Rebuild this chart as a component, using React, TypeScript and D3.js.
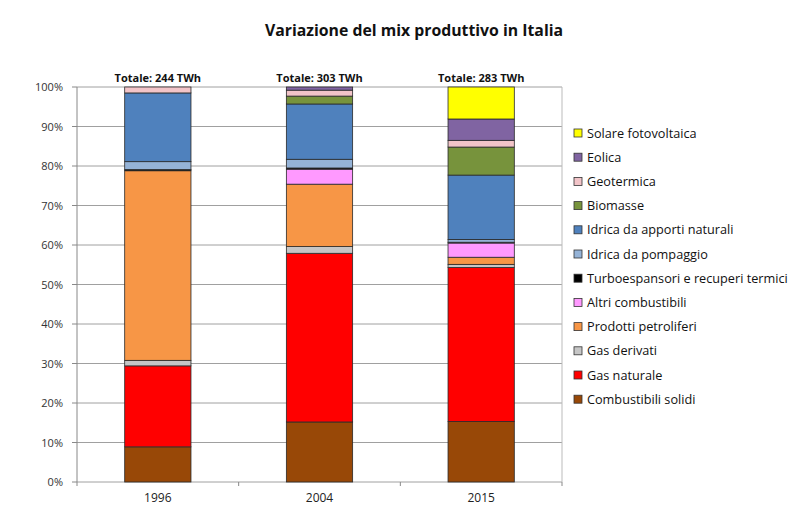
import React from "react";
import * as d3 from "d3";

const years = ["1996", "2004", "2015"];
const totals = ["Totale: 244 TWh", "Totale: 303 TWh", "Totale: 283 TWh"];
const sources = [
  "Combustibili solidi",
  "Gas naturale",
  "Gas derivati",
  "Prodotti petroliferi",
  "Altri combustibili",
  "Turboespansori e recuperi termici",
  "Idrica da pompaggio",
  "Idrica da apporti naturali",
  "Biomasse",
  "Geotermica",
  "Eolica",
  "Solare fotovoltaica",
];
const colors = [
  "#984807",
  "#FF0000",
  "#C6C6C6",
  "#F79646",
  "#FF99FF",
  "#000000",
  "#95B3D7",
  "#4F81BD",
  "#77933C",
  "#F2C4C8",
  "#8064A2",
  "#FFFF00",
];
// percentage shares per year, in order of sources
const share1996 = [8.9, 20.5, 1.4, 48.0, 0.0, 0.3, 2.0, 17.4, 0.0, 1.5, 0.0, 0.0];
const share2004 = [15.2, 42.7, 1.7, 15.8, 3.8, 0.3, 2.2, 14.0, 2.0, 1.5, 0.8, 0.0];
const share2015 = [15.3, 39.0, 0.8, 1.8, 3.6, 0.2, 0.7, 16.3, 7.1, 1.7, 5.4, 8.1];
const yTicks = [0, 10, 20, 30, 40, 50, 60, 70, 80, 90, 100];

const W = 800;
const H = 521;
const M = { left: 77, right: 562, top: 87, bottom: 482 };

export default function App() {
  const data = [share1996, share2004, share2015];
  const x = d3.scaleBand<string>().domain(years).range([M.left, M.right]).paddingInner(0.59).paddingOuter(0.295);
  const band = (M.right - M.left) / years.length;
  const y = d3.scaleLinear().domain([0, 100]).range([M.bottom, M.top]);
  const font = "Open Sans, Lato, sans-serif";

  const rows = years.map((yr, i) => {
    const obj: any = { year: yr };
    sources.forEach((s, j) => (obj[s] = data[i][j]));
    return obj;
  });
  const stack = d3.stack<any>().keys(sources)(rows);

  return (
    <svg width={W} height={H} style={{ position: "absolute", left: 0, top: 0, background: "#fff" }}>
      <text x={414} y={36} textAnchor="middle" fontFamily={font} fontWeight={700} fontSize={15.8} fill="#111">
        Variazione del mix produttivo in Italia
      </text>
      {/* grid */}
      {yTicks.map((t) => (
        <g key={t}>
          <line x1={M.left} x2={M.right} y1={y(t)} y2={y(t)} stroke="#a0a0a0" strokeWidth={1} />
          <line x1={M.left - 5} x2={M.left} y1={y(t)} y2={y(t)} stroke="#888" />
          <text x={63} y={y(t) + 4} textAnchor="end" fontFamily={font} fontSize={11} fill="#333">
            {t}%
          </text>
        </g>
      ))}
      <line x1={M.left} x2={M.left} y1={M.top} y2={M.bottom} stroke="#888" />
      <line x1={M.right} x2={M.right} y1={M.top} y2={M.bottom} stroke="#bbb" />
      {d3.range(years.length + 1).map((i) => (
        <line key={i} x1={M.left + i * band} x2={M.left + i * band} y1={M.bottom} y2={M.bottom + 4} stroke="#888" />
      ))}
      {/* bars */}
      {stack.map((layer, j) => (
        <g key={sources[j]}>
          {layer.map((d, i) =>
            d[1] - d[0] > 0 ? (
              <rect
                key={i}
                x={x(years[i])}
                width={x.bandwidth()}
                y={y(d[1])}
                height={y(d[0]) - y(d[1])}
                fill={colors[j]}
                stroke="#2a2a2a"
                strokeWidth={0.8}
              />
            ) : null
          )}
        </g>
      ))}
      {years.map((yr, i) => (
        <g key={yr}>
          <text x={(x(yr) as number) + x.bandwidth() / 2} y={502} textAnchor="middle" fontFamily={font} fontSize={12} fill="#222">
            {yr}
          </text>
          <text x={(x(yr) as number) + x.bandwidth() / 2} y={82} textAnchor="middle" fontFamily={font} fontWeight={700} fontSize={11} fill="#111">
            {totals[i]}
          </text>
        </g>
      ))}
      {/* legend */}
      {sources
        .slice()
        .reverse()
        .map((s, k) => {
          const j = sources.length - 1 - k;
          const yy = 133 + k * 24.2;
          return (
            <g key={s}>
              <rect x={574} y={yy - 4} width={8} height={8} fill={colors[j]} stroke="#333" strokeWidth={0.8} />
              <text x={587} y={yy + 4.5} fontFamily={font} fontSize={12.7} fill="#111">
                {s}
              </text>
            </g>
          );
        })}
    </svg>
  );
}
